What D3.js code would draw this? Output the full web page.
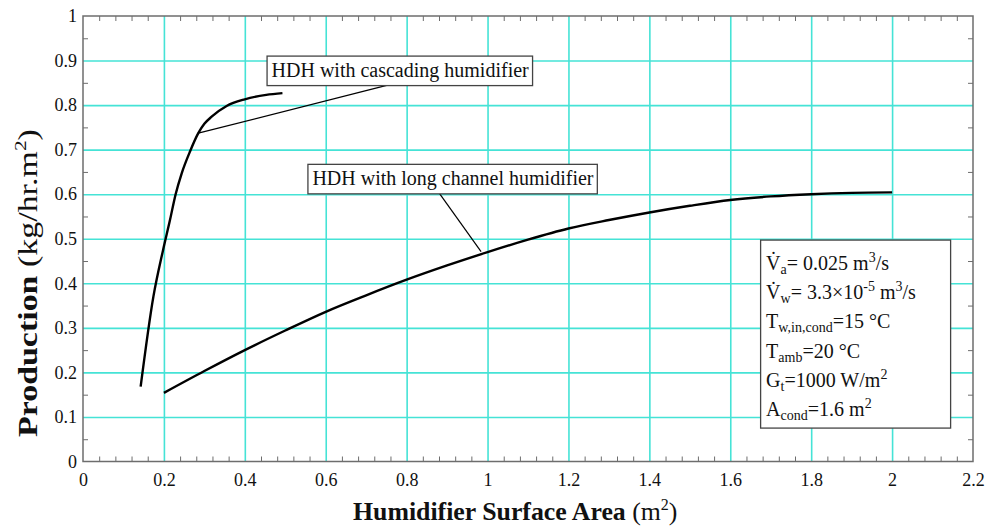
<!DOCTYPE html>
<html>
<head>
<meta charset="utf-8">
<script src="https://cdn.jsdelivr.net/npm/d3@7"></script>
<style>
  body { margin: 0; background: #fff; }
</style>
</head>
<body>
<svg id="chart" width="991" height="528"></svg>
<script>
// data
const cascadeX = [0.1425, 0.174, 0.198, 0.215, 0.229, 0.244, 0.265, 0.285, 0.3, 0.318, 0.355, 0.4, 0.453, 0.493]
const cascadeY = [0.168, 0.37, 0.475, 0.542, 0.6, 0.647, 0.697, 0.737, 0.758, 0.774, 0.798, 0.813, 0.823, 0.827]

const longX = [0.2, 0.3, 0.4, 0.5, 0.6, 0.7, 0.8, 0.9, 1.0, 1.1, 1.2, 1.3, 1.4, 1.5, 1.6, 1.7, 1.8, 1.9, 2.0]
const longY = [0.154, 0.203, 0.25, 0.294, 0.336, 0.373, 0.408, 0.44, 0.47, 0.498, 0.523, 0.542, 0.559, 0.574, 0.587, 0.595, 0.6, 0.603, 0.604]

const xTicks = [0, 0.2, 0.4, 0.6, 0.8, 1, 1.2, 1.4, 1.6, 1.8, 2, 2.2]
const yTicks = [0, 0.1, 0.2, 0.3, 0.4, 0.5, 0.6, 0.7, 0.8, 0.9, 1]
const xMinor = d3.range(0, 2.2001, 0.04)
const yMinor = d3.range(0, 1.0001, 0.05)

const cascadeLabel = "HDH with cascading humidifier"
const longLabel = "HDH with long channel humidifier"

// parameter box lines, pieces tagged as normal / sub / sup
const paramLines = [
  [["V\u0307", ""], ["a", "sub"], ["= 0.025 m", ""], ["3", "sup"], ["/s", ""]],
  [["V\u0307", ""], ["w", "sub"], ["= 3.3\u00d710", ""], ["-5", "sup"], [" m", ""], ["3", "sup"], ["/s", ""]],
  [["T", ""], ["w,in,cond", "sub"], ["=15 \u00b0C", ""]],
  [["T", ""], ["amb", "sub"], ["=20 \u00b0C", ""]],
  [["G", ""], ["t", "sub"], ["=1000 W/m", ""], ["2", "sup"]],
  [["A", ""], ["cond", "sub"], ["=1.6 m", ""], ["2", "sup"]]
]

const FONT = "'Liberation Serif', 'Times New Roman', serif"

const margin = {top: 16, right: 18, bottom: 66.5, left: 83},
    width = 991 - margin.left - margin.right,
    height = 528 - margin.top - margin.bottom

const svg = d3.select("#chart")
const g = svg.append("g").attr("transform", "translate(" + margin.left + "," + margin.top + ")")

const x = d3.scaleLinear().domain([0, 2.2]).range([0, width])
const y = d3.scaleLinear().domain([0, 1]).range([height, 0])

const gridColor = "#45e3d6"
const frameColor = "#6d6d6d"

// grid
g.append("g")
    .attr("transform", "translate(0," + height + ")")
    .call(d3.axisBottom(x).tickValues(xTicks.slice(1, -1)).tickSize(-height).tickFormat(""))
    .call(s => s.select(".domain").remove())
    .selectAll("line").attr("stroke", gridColor).attr("stroke-width", 1.6)
g.append("g")
    .call(d3.axisLeft(y).tickValues(yTicks.slice(1, -1)).tickSize(-width).tickFormat(""))
    .call(s => s.select(".domain").remove())
    .selectAll("line").attr("stroke", gridColor).attr("stroke-width", 1.6)

// minor ticks, inward on all four sides
const minorX = xMinor.filter(v => !xTicks.some(t => Math.abs(t - v) < 1e-6))
const minorY = yMinor.filter(v => !yTicks.some(t => Math.abs(t - v) < 1e-6))
const tickSides = [
  [d3.axisBottom(x).tickValues(minorX), "translate(0," + height + ")"],
  [d3.axisTop(x).tickValues(minorX), "translate(0,0)"],
  [d3.axisLeft(y).tickValues(minorY), "translate(0,0)"],
  [d3.axisRight(y).tickValues(minorY), "translate(" + width + ",0)"]
]
for (let [ax, tr] of tickSides) {
  g.append("g").attr("transform", tr)
      .call(ax.tickSize(-5).tickFormat(""))
      .call(s => s.select(".domain").remove())
      .selectAll("line").attr("stroke", frameColor).attr("stroke-width", 1)
}

// frame
g.append("rect").attr("width", width).attr("height", height)
    .attr("fill", "none").attr("stroke", frameColor).attr("stroke-width", 1.5)

// tick labels
g.append("g").attr("transform", "translate(0," + height + ")")
    .call(d3.axisBottom(x).tickValues(xTicks).tickSize(0).tickPadding(12).tickFormat(d => String(d)))
    .call(s => s.select(".domain").remove())
    .attr("font-family", FONT)
    .selectAll("text").style("font-size", "18px").style("font-family", FONT).attr("fill", "#111")
g.append("g")
    .call(d3.axisLeft(y).tickValues(yTicks).tickSize(0).tickPadding(6).tickFormat(d => String(d)))
    .call(s => s.select(".domain").remove())
    .attr("font-family", FONT)
    .selectAll("text").style("font-size", "18px").style("font-family", FONT).attr("fill", "#111")

// axis titles
const xt = svg.append("text").attr("x", 353).attr("y", 520)
    .style("font-family", FONT).style("font-size", "25.8px").attr("fill", "#111")
xt.append("tspan").attr("font-weight", "bold").text("Humidifier Surface Area ")
xt.append("tspan").text("(m")
xt.append("tspan").attr("dy", -10).style("font-size", "16px").text("2")
xt.append("tspan").attr("dy", 10).text(")")

const yt = svg.append("text")
    .style("font-family", FONT).style("font-size", "27px").attr("fill", "#111")
yt.append("tspan").attr("font-weight", "bold").text("Production ")
yt.append("tspan").text("(kg/hr.m")
yt.append("tspan").attr("dy", -11).style("font-size", "17px").text("2")
yt.append("tspan").attr("dy", 11).text(")")
// the reference title is drawn a little stretched along its length
const ytLen = yt.node().getBBox().width
yt.attr("transform", "translate(37,437) rotate(-90) scale(" + (308 / ytLen) + ",1)")

// curves
const line = d3.line().x(d => x(d[0])).y(d => y(d[1])).curve(d3.curveMonotoneX)
const cascade = cascadeX.map((v, i) => [v, cascadeY[i]])
const longCh = longX.map((v, i) => [v, longY[i]])
g.append("path").datum(cascade).attr("d", line)
    .attr("fill", "none").attr("stroke", "#000").attr("stroke-width", 2.4)
g.append("path").datum(longCh).attr("d", line)
    .attr("fill", "none").attr("stroke", "#000").attr("stroke-width", 2.4)

// annotations: label box + leader
const annotate = (label, bx, by, leaderFrom, leaderTo) => {
  g.append("line")
      .attr("x1", x(leaderFrom)).attr("y1", y(by) + 29)
      .attr("x2", x(leaderTo[0])).attr("y2", y(leaderTo[1]))
      .attr("stroke", "#000").attr("stroke-width", 1.2)
  const grp = g.append("g")
  const rect = grp.append("rect")
  const t = grp.append("text").attr("x", x(bx) + 4.5).attr("y", y(by) + 21)
      .style("font-family", FONT).style("font-size", "20px").attr("fill", "#111").text(label)
  const bb = t.node().getBBox()
  rect.attr("x", x(bx)).attr("y", y(by)).attr("width", bb.width + 8).attr("height", 29.5)
      .attr("fill", "#fff").attr("stroke", "#444").attr("stroke-width", 1.3)
}
annotate(cascadeLabel, 0.455, 0.91, 0.753, [0.285, 0.737])
annotate(longLabel, 0.556, 0.667, 0.881, [0.984, 0.471])

// parameter box
const px = x(1.675), py = y(0.497)
g.append("rect").attr("x", px).attr("y", py).attr("width", 190).attr("height", 188)
    .attr("fill", "#fff").attr("stroke", "#444").attr("stroke-width", 1.3)
paramLines.forEach((parts, i) => {
  const t = g.append("text").attr("x", px + 5.5).attr("y", py + 30 + i * 29.2)
      .style("font-family", FONT).style("font-size", "20px").attr("fill", "#111")
  let shift = 0
  for (let [s, kind] of parts) {
    let target = kind === "sub" ? 4 : kind === "sup" ? -8 : 0
    let ts = t.append("tspan").attr("dy", target - shift).text(s)
    if (kind) ts.style("font-size", "14px")
    shift = target
  }
})
</script>
</body>
</html>
